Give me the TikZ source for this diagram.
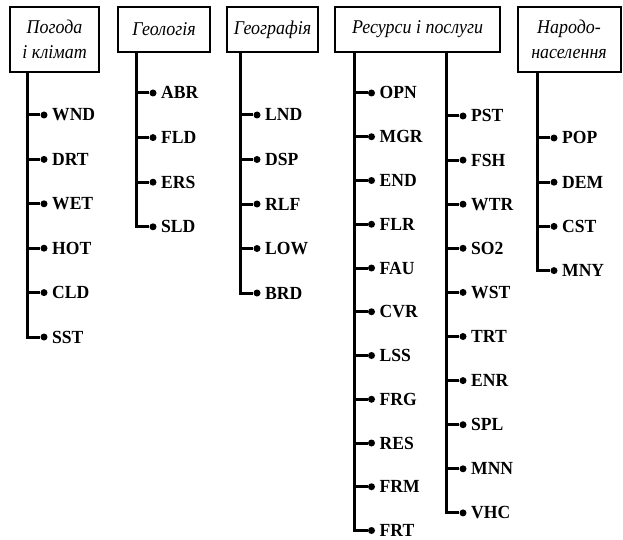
\documentclass[tikz,border=0pt]{standalone}
\usepackage{fontspec}
\setmainfont{Liberation Serif}
\newfontfamily\leaffont[FakeStretch=0.95]{Liberation Serif Bold}
\newfontfamily\headfont[FakeStretch=0.92]{Liberation Serif Italic}
\begin{document}
\begin{tikzpicture}[x=1pt,y=-1pt,
  hbox/.style={draw, line width=2pt, inner sep=0pt, align=center,
    font=\headfont\fontsize{19.5}{25}\selectfont},
  trunk/.style={line width=3pt},
  leaf/.style={anchor=base west, inner sep=0pt, font=\leaffont\fontsize{18.5}{20}\selectfont},
  dot/.style={circle, fill=black, inner sep=0pt, minimum size=7pt}]
\useasboundingbox (0,0) rectangle (623,540);
% header boxes
\node[hbox, minimum width=89pt, minimum height=65pt] (h1) at (54.5,39.5) {Погода\\і клімат};
\node[hbox, minimum width=92pt, minimum height=45pt] (h2) at (164,29.5) {Геологія};
\node[hbox, minimum width=91pt, minimum height=45pt] (h3) at (272.5,29.5) {Географія};
\node[hbox, minimum width=165pt, minimum height=45pt] (h4) at (417.5,29.5) {Ресурси і послуги};
\node[hbox, minimum width=103pt, minimum height=65pt] (h5) at (569,39.5) {Народо-\\населення};
\newcommand{\mybranch}[5]{% #1 header, #2 trunk x, #3 start y, #4 step, #5 list
  \coordinate (t#1) at (#2,0);
  \foreach \lab [count=\i] in {#5} {
    \pgfmathsetmacro{\yy}{#3+(\i-1)*#4}
    \node[dot] (d\lab) at (#2+17,\yy) {};
    \node[leaf] (l\lab) at (#2+25,\yy+6) {\lab};
    \coordinate (c\lab) at (#2,\yy);
    \draw[trunk] (c\lab) -- (d\lab);
    \xdef\lastlab{\lab}
  }
  \draw[trunk, line join=miter] (h#1.south -| t#1) -- (c\lastlab) -- (d\lastlab);
}
\mybranch{1}{27}{115}{44.4}{WND,DRT,WET,HOT,CLD,SST}
\mybranch{2}{136}{93}{44.6}{ABR,FLD,ERS,SLD}
\mybranch{3}{240}{115}{44.5}{LND,DSP,RLF,LOW,BRD}
\mybranch{4}{354.5}{93}{43.75}{OPN,MGR,END,FLR,FAU,CVR,LSS,FRG,RES,FRM,FRT}
\coordinate (t4b) at (446,0);
\foreach \lab [count=\i] in {PST,FSH,WTR,SO2,WST,TRT,ENR,SPL,MNN,VHC} {
  \pgfmathsetmacro{\yy}{116+(\i-1)*44.1}
  \node[dot] (d\lab) at (446+17,\yy) {};
  \node[leaf] (l\lab) at (446+25,\yy+6) {\lab};
  \coordinate (c\lab) at (446,\yy);
  \draw[trunk] (c\lab) -- (d\lab);
}
\draw[trunk, line join=miter] (h4.south -| t4b) -- (cVHC) -- (dVHC);
\mybranch{5}{537}{138}{44.2}{POP,DEM,CST,MNY}
\end{tikzpicture}
\end{document}
